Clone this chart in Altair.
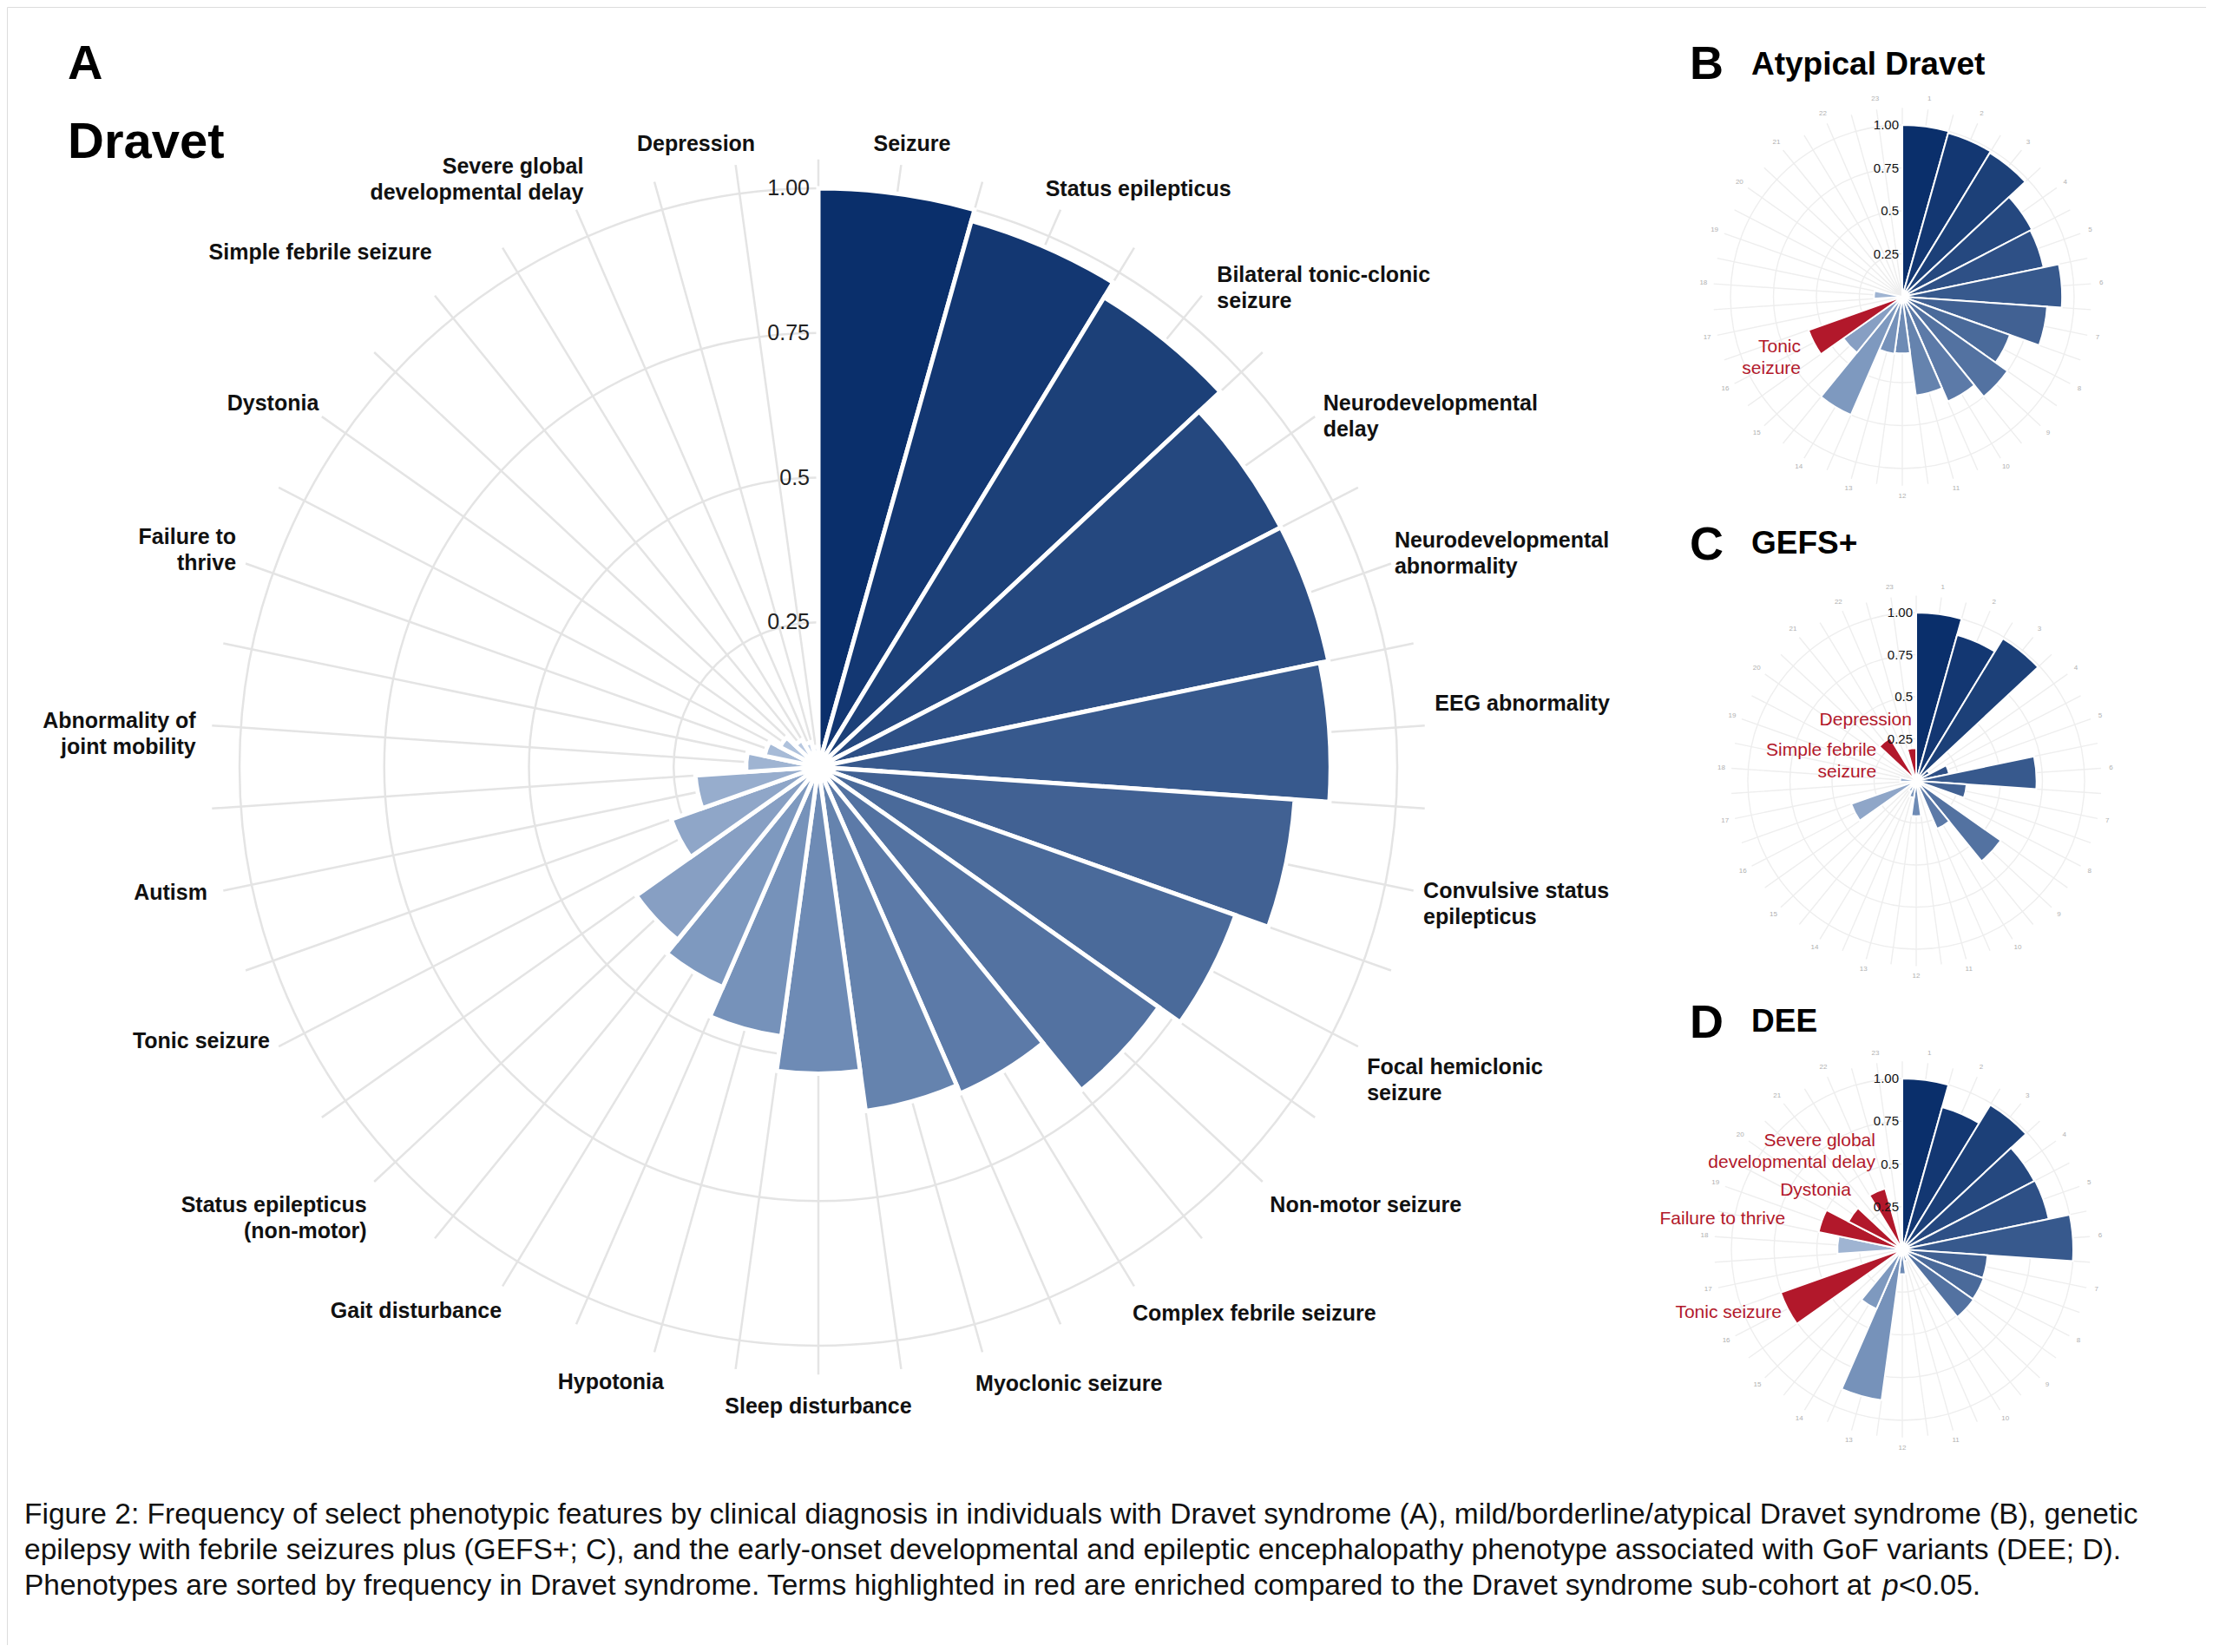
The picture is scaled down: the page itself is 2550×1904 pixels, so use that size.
import math
import altair as alt
import pandas as pd

# ---------------- data ----------------
categories = [
    "Seizure", "Status epilepticus", "Bilateral tonic-clonic seizure",
    "Neurodevelopmental delay", "Neurodevelopmental abnormality", "EEG abnormality",
    "Convulsive status epilepticus", "Focal hemiclonic seizure", "Non-motor seizure",
    "Complex febrile seizure", "Myoclonic seizure", "Sleep disturbance", "Hypotonia",
    "Gait disturbance", "Status epilepticus (non-motor)", "Tonic seizure", "Autism",
    "Abnormality of joint mobility", "Failure to thrive", "Dystonia",
    "Simple febrile seizure", "Severe global developmental delay", "Depression",
]
axis_labels = [
    "Seizure", "Status epilepticus", "Bilateral tonic-clonic\nseizure",
    "Neurodevelopmental\ndelay", "Neurodevelopmental\nabnormality", "EEG abnormality",
    "Convulsive status\nepilepticus", "Focal hemiclonic\nseizure", "Non-motor seizure",
    "Complex febrile seizure", "Myoclonic seizure", "Sleep disturbance", "Hypotonia",
    "Gait disturbance", "Status epilepticus\n(non-motor)", "Tonic seizure", "Autism",
    "Abnormality of\njoint mobility", "Failure to\nthrive", "Dystonia",
    "Simple febrile seizure", "Severe global\ndevelopmental delay", "Depression",
]
dravet = [1.00, 0.98, 0.95, 0.90, 0.90, 0.885, 0.825, 0.765, 0.72, 0.615, 0.60, 0.53,
          0.47, 0.415, 0.385, 0.27, 0.213, 0.125, 0.095, 0.075, 0.055, 0.045, 0.035]
atypical = [1.00, 0.99, 0.98, 0.85, 0.84, 0.93, 0.845, 0.665, 0.75, 0.665, 0.58, 0.33,
            0.335, 0.75, 0.42, 0.58, 0.0, 0.165, 0.0, 0.0, 0.0, 0.0, 0.0]
gefs = [1.00, 0.90, 0.99, 0.09, 0.20, 0.715, 0.30, 0.03, 0.615, 0.31, 0.04, 0.21,
        0.10, 0.07, 0.04, 0.41, 0.0, 0.095, 0.0, 0.0, 0.30, 0.0, 0.195]
dee = [1.00, 0.865, 0.99, 0.87, 0.875, 1.00, 0.50, 0.505, 0.51, 0.05, 0.07, 0.145,
       0.89, 0.38, 0.05, 0.755, 0.0, 0.38, 0.50, 0.355, 0.0, 0.37, 0.0]

enriched_atypical = ["Tonic seizure"]
enriched_gefs = ["Simple febrile seizure", "Depression"]
enriched_dee = ["Severe global developmental delay", "Dystonia", "Failure to thrive", "Tonic seizure"]

annot_atypical = {"Tonic seizure": "Tonic\nseizure"}
annot_gefs = {"Depression": "Depression", "Simple febrile seizure": "Simple febrile\nseizure"}
annot_dee = {"Severe global developmental delay": "Severe global\ndevelopmental delay",
             "Dystonia": "Dystonia", "Failure to thrive": "Failure to thrive",
             "Tonic seizure": "Tonic seizure"}

grid_values = [0.25, 0.5, 0.75, 1.0]
grid_labels = ["0.25", "0.5", "0.75", "1.00"]

caption_lines = [
    "Figure 2: Frequency of select phenotypic features by clinical diagnosis in individuals with Dravet syndrome (A), mild/borderline/atypical Dravet syndrome (B), genetic",
    "epilepsy with febrile seizures plus (GEFS+; C), and the early-onset developmental and epileptic encephalopathy phenotype associated with GoF variants (DEE; D).",
    "Phenotypes are sorted by frequency in Dravet syndrome. Terms highlighted in red are enriched compared to the Dravet syndrome sub-cohort at ",
]
caption_italic = "p"
caption_tail = "<0.05."

# ---------------- styling ----------------
OFF = 8
TAU = 2 * math.pi
N = len(categories)
THETA = alt.Scale(domain=[0, N], range=[0, TAU])
COLOR = alt.Scale(domain=[1, 12, 23], range=["#0a2f6b", "#6e8bb5", "#c8d6ea"], interpolate="rgb")
RED = "#b2182b"
FONT = "Liberation Sans"
LH_A = 30
LH_ANN = 25

# small per-label nudges (pixels) for panel A category labels
label_nudge = {
    "Seizure": (11, 0), "Status epilepticus": (-22, 0), "Bilateral tonic-clonic seizure": (10, 0),
    "Neurodevelopmental delay": (0, 7), "Neurodevelopmental abnormality": (-7, -8),
    "EEG abnormality": (0, -24), "Convulsive status epilepticus": (0, 13),
    "Focal hemiclonic seizure": (0, 6), "Non-motor seizure": (0, 7),
    "Complex febrile seizure": (-8, 10), "Myoclonic seizure": (-11, 13),
    "Sleep disturbance": (0, 13), "Hypotonia": (14, 11), "Gait disturbance": (5, 7),
    "Status epilepticus (non-motor)": (0, 7), "Tonic seizure": (0, -12), "Autism": (-7, 0),
    "Abnormality of joint mobility": (-7, 11), "Failure to thrive": (0, -12),
    "Dystonia": (6, -8), "Simple febrile seizure": (4, -28),
    "Severe global developmental delay": (13, 4), "Depression": (-44, 0),
}

# per-label nudges for the red annotations (pixels)
annot_nudge = {
    ("B", "Tonic seizure"): (-15, 18),
    ("C", "Depression"): (0, -33),
    ("C", "Simple febrile seizure"): (-9, 23),
    ("D", "Severe global developmental delay"): (-2, -46),
    ("D", "Dystonia"): (-2, -28),
    ("D", "Failure to thrive"): (-42, -2),
    ("D", "Tonic seizure"): (-7, 5),
}


def frame(values, enriched, annot=None):
    annot = annot or {}
    return pd.DataFrame({
        "idx": list(range(1, N + 1)),
        "cat": categories,
        "lab": axis_labels,
        "val": values,
        "enr": [c in enriched for c in categories],
        "alab": [annot.get(c, "") for c in categories],
    })


def text_at(text, x, y, **style):
    return alt.Chart(pd.DataFrame({"t": [text]})).mark_text(font=FONT, **style).encode(
        x=alt.value(x - OFF), y=alt.value(y - OFF), text="t:N")


def polar_panel(df, cx, cy, R, bar_stroke, grid_color, grid_width, spoke_ext):
    X = alt.value(cx - OFF)
    Y = alt.value(cy - OFF)
    rs = alt.Scale(type="linear", domain=[0, 1], range=[0, R], zero=True)
    grid_df = pd.DataFrame({"g": grid_values, "lab": grid_labels})
    layers = []
    layers.append(
        alt.Chart(grid_df).mark_arc(filled=False, stroke=grid_color, strokeWidth=grid_width,
                                    theta=0, theta2=TAU)
        .encode(x=X, y=Y, radius=alt.Radius("g:Q", scale=rs, stack=None))
    )
    layers.append(
        alt.Chart(df)
        .transform_calculate(s1="datum.idx - 1", s2="datum.idx - 0.5", ext=str(spoke_ext))
        .transform_fold(["s1", "s2"], as_=["k", "s"])
        .mark_arc(filled=False, stroke=grid_color, strokeWidth=grid_width)
        .encode(x=X, y=Y,
                theta=alt.Theta("s:Q", scale=THETA, stack=None), theta2="s:Q",
                radius=alt.Radius("ext:Q", scale=rs, stack=None))
    )
    layers.append(
        alt.Chart(df)
        .transform_calculate(t0="datum.idx - 1", t1="datum.idx")
        .mark_arc(stroke="white", strokeWidth=bar_stroke)
        .encode(x=X, y=Y,
                theta=alt.Theta("t0:Q", scale=THETA, stack=None), theta2="t1:Q",
                radius=alt.Radius("val:Q", scale=rs, stack=None),
                color=alt.condition("datum.enr", alt.value(RED),
                                    alt.Color("idx:Q", scale=COLOR, legend=None)))
    )
    return layers, X, Y, rs, grid_df


layers = []

# ---------------- Panel A ----------------
A_cx, A_cy, A_R = 943, 884, 667
dfA = frame(dravet, [])
lA, XA, YA, rsA, gA = polar_panel(dfA, A_cx, A_cy, A_R, 5, "#e4e4e4", 2.5, 1.05)
layers += lA
for i, cat in enumerate(categories):
    ang = (i + 0.5) / N * TAU
    sn, cs = math.sin(ang), math.cos(ang)
    a = "center" if abs(sn) < 0.2 else ("left" if sn > 0 else "right")
    if cs > (0.8 if sn > 0 else 0.7):
        b = "bottom"
    elif cs < (-0.4 if sn > 0 else -0.5):
        b = "top"
    else:
        b = "middle"
    nl = axis_labels[i].count("\n") + 1
    shift = {"top": 0, "middle": -(nl - 1) * LH_A / 2, "bottom": -(nl - 1) * LH_A}[b]
    ndx, ndy = label_nudge.get(cat, (0, 0))
    layers.append(
        alt.Chart(dfA).transform_filter(alt.datum.idx == i + 1)
        .transform_calculate(tc="datum.idx - 0.5")
        .mark_text(align=a, baseline=b, dx=ndx, dy=shift + ndy, font=FONT, fontSize=25,
                   fontWeight="bold", lineBreak="\n", lineHeight=LH_A, color="#111111")
        .encode(x=XA, y=YA, theta=alt.Theta("tc:Q", scale=THETA, stack=None),
                radius=alt.value(712), text="lab:N")
    )
layers.append(
    alt.Chart(gA).mark_text(align="right", baseline="middle", dx=-10, font=FONT,
                            fontSize=25, color="#222222")
    .encode(x=XA, y=YA, theta=alt.value(0), radius=alt.Radius("g:Q", scale=rsA, stack=None),
            text="lab:N")
)
layers.append(text_at("A", 78, 91, fontSize=56, fontWeight="bold", align="left",
                      baseline="alphabetic", color="#000000"))
layers.append(text_at("Dravet", 78, 182, fontSize=58, fontWeight="bold", align="left",
                      baseline="alphabetic", color="#000000"))

# ---------------- Panels B, C, D ----------------
small_panels = [
    ("B", "Atypical Dravet", atypical, enriched_atypical, annot_atypical, 2192, 342, 198, 91, 86),
    ("C", "GEFS+", gefs, enriched_gefs, annot_gefs, 2208, 900, 194, 645, 638),
    ("D", "DEE", dee, enriched_dee, annot_dee, 2192, 1440, 197, 1196, 1189),
]
for key, title, vals, enr, annot, cx, cy, R, ky, ty in small_panels:
    df = frame(vals, enr, annot)
    lp, X, Y, rs, g = polar_panel(df, cx, cy, R, 2, "#eeeeee", 1.4, 1.1)
    layers += lp
    layers.append(
        alt.Chart(df).transform_calculate(tc="datum.idx - 0.5")
        .mark_text(align="center", baseline="middle", font=FONT, fontSize=8, color="#b0b0b0")
        .encode(x=X, y=Y, theta=alt.Theta("tc:Q", scale=THETA, stack=None),
                radius=alt.value(R * 1.16), text="idx:N")
    )
    layers.append(
        alt.Chart(g).mark_text(align="right", baseline="middle", dx=-4, font=FONT,
                               fontSize=15, color="#111111")
        .encode(x=X, y=Y, theta=alt.value(0), radius=alt.Radius("g:Q", scale=rs, stack=None),
                text="lab:N")
    )
    for cat, txt in annot.items():
        dx, dy = annot_nudge[(key, cat)]
        nl = txt.count("\n") + 1
        layers.append(
            alt.Chart(df).transform_filter(alt.datum.cat == cat)
            .transform_calculate(tc="datum.idx - 0.5")
            .mark_text(align="right", baseline="middle", dx=dx, dy=dy - (nl - 1) * LH_ANN / 2,
                       font=FONT, fontSize=21, lineBreak="\n", lineHeight=LH_ANN, color=RED)
            .encode(x=X, y=Y, theta=alt.Theta("tc:Q", scale=THETA, stack=None),
                    radius=alt.Radius("val:Q", scale=rs, stack=None), text="alab:N")
        )
    layers.append(text_at(key, 1947, ky, fontSize=54, fontWeight="bold", align="left",
                          baseline="alphabetic", color="#000000"))
    layers.append(text_at(title, 2018, ty, fontSize=37, fontWeight="bold", align="left",
                          baseline="alphabetic", color="#000000"))

# ---------------- caption ----------------
cap_y = [1746, 1787, 1828]
for line, y in zip(caption_lines, cap_y):
    layers.append(text_at(line, 28, y, fontSize=33.5, align="left", baseline="middle",
                          color="#111111"))
layers.append(text_at(caption_italic, 2169, cap_y[2], fontSize=33.5, fontStyle="italic",
                      align="left", baseline="middle", color="#111111"))
layers.append(text_at(caption_tail, 2188, cap_y[2], fontSize=33.5, align="left",
                      baseline="middle", color="#111111"))

chart = (
    alt.layer(*layers)
    .resolve_scale(radius="independent")
    .properties(width=2534, height=1888, padding=0,
                autosize=alt.AutoSizeParams(type="none"))
    .configure_view(stroke=None)
    .configure(background="white")
)

chart.save("out.html", embed_options={"renderer": "svg", "actions": False})
